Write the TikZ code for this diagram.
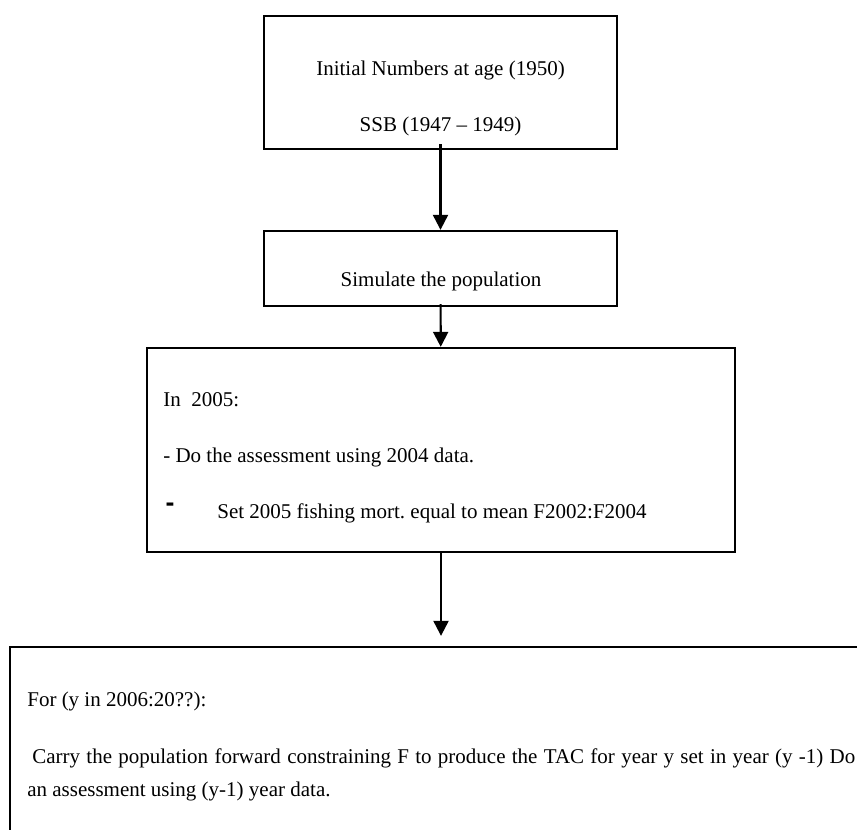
\documentclass[tikz,border=0pt]{standalone}
\usepackage{fontspec}
\setmainfont{Liberation Serif}
\newfontfamily\dashfont{Liberation Sans}
\usetikzlibrary{arrows.meta}

\tikzset{
  stage/.style={draw, line width=1.4pt, inner sep=0pt},
  txt/.style={font=\fontsize{12.6}{15}\selectfont, anchor=base west, inner sep=0pt},
  flow/.style={-{Triangle[length=9pt,width=9pt]}, line width=1.3pt}
}

\begin{document}
\begin{tikzpicture}[x=0.6pt,y=-0.6pt]

\useasboundingbox (0,0) rectangle (857,830);
\clip (0,0) rectangle (857,830);

\node[stage, minimum width=211.8pt, minimum height=79.8pt] (init) at (440.5,82.5) {};
\node[stage, minimum width=211.8pt, minimum height=45pt] (sim) at (440.5,268.5) {};
\node[stage, minimum width=352.8pt, minimum height=122.4pt] (y2005) at (441,450) {};
\node[stage, minimum width=516pt, minimum height=121.8pt] (loop) at (440,748.5) {};

\node[txt, anchor=base] (initA) at (440.5,76) {Initial Numbers at age (1950)};
\node[txt, anchor=base] (initB) at (440.5,132) {SSB (1947 -- 1949)};
\node[txt, anchor=base] (simA) at (441,287) {Simulate the population};

\node[txt] (yA) at (163,407) {In\ \ 2005:};
\node[txt] (yB) at (163,462) {- Do the assessment using 2004 data.};
\node[txt, anchor=center, font=\dashfont\bfseries\fontsize{16}{18}\selectfont] (yDash) at (170,507) {-};
\node[txt] (yC) at (217,518) {Set 2005 fishing mort.\ equal to mean F2002:F2004};

\node[txt] (loopA) at (27,706) {For (y in 2006:20??):};
\node[txt] (loopB) at (32,763) {\makebox[493.8pt][s]{Carry the population forward constraining F to produce the TAC for year y set in year (y -1) Do}};
\node[txt] (loopC) at (27,796) {an assessment using (y-1) year data.};

\draw[flow, shorten <=-3.6pt] (init) -- (sim);
\draw[flow, shorten <=-1.8pt] (sim) -- (y2005);
\draw[flow, shorten >=6pt] (y2005.south) -- (y2005.south |- loop.north);

\end{tikzpicture}
\end{document}
